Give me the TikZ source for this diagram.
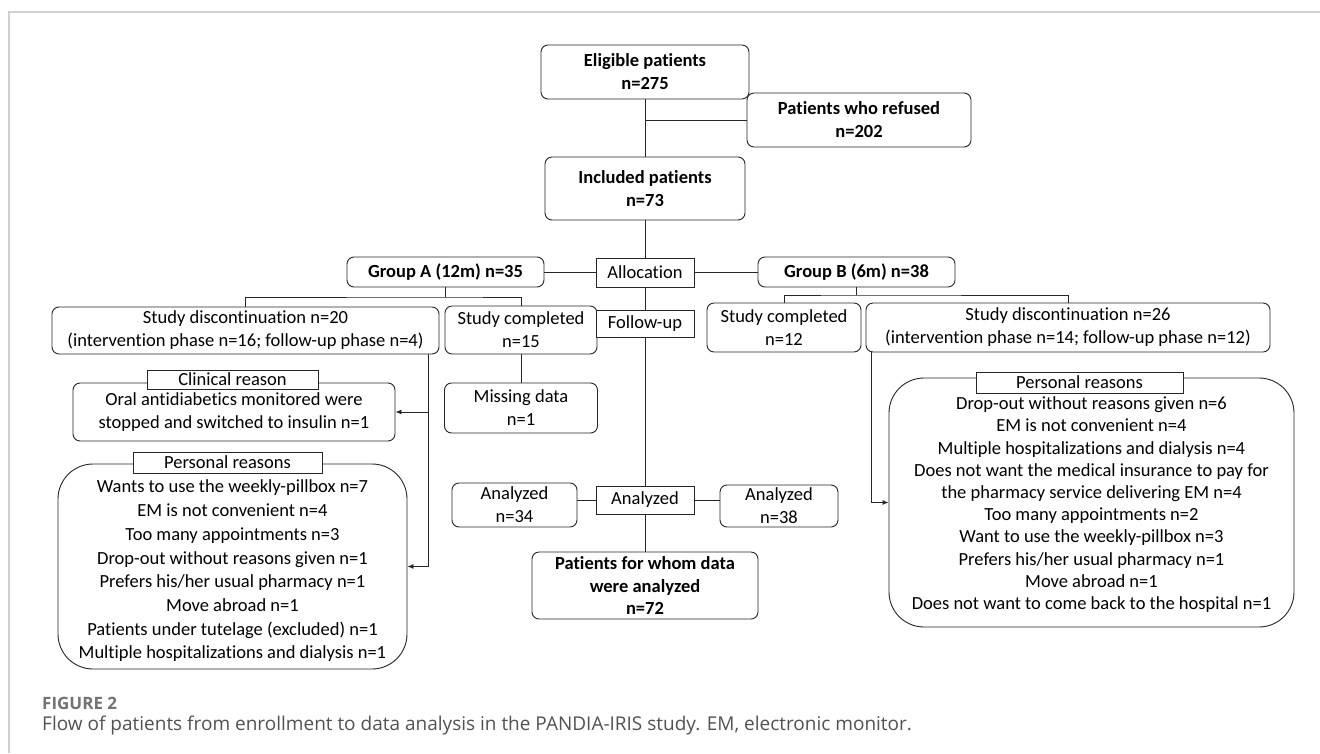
\documentclass[tikz,border=0pt]{standalone}
\usepackage{fontspec}
\setmainfont{Carlito}[Ligatures=NoCommon]
\newfontfamily\capfont{Open Sans}
\usetikzlibrary{arrows.meta,calc}
\newcommand\dfont{\fontsize{18.5}{23}\selectfont}
\tikzset{
  box/.style={draw=black!85, line width=0.9pt, rounded corners=7pt, align=center, inner sep=1pt, fill=white, font=\dfont},
  bbox/.style={box, font=\dfont\bfseries},
  lbl/.style={draw=black!85, line width=0.9pt, fill=white, align=center, inner sep=1pt, font=\dfont},
  bigbox/.style={draw=black!85, line width=0.9pt, rounded corners=35pt, fill=white},
  inner/.style={align=center, inner sep=0pt},
  conn/.style={draw=black!85, line width=0.9pt},
  arr/.style={conn, -{Latex[length=6pt,width=5pt]}},
}
\begin{document}
\begin{tikzpicture}[x=1pt,y=-1pt]
\useasboundingbox (0,0) rectangle (1320,753);
\fill[white] (0,0) rectangle (1320,753);
% frame
\draw[black!18, line width=1.2pt] (9,753) -- (9,12) -- (1320,12);

% top part
\node[bbox, minimum width=208pt, minimum height=54pt] (elig) at (645,72) {Eligible patients\\n=275};
\node[bbox, minimum width=224pt, minimum height=54pt] (ref) at (859,120) {Patients who refused\\n=202};
\node[bbox, minimum width=200pt, minimum height=63pt] (incl) at (645,188.5) {Included patients\\n=73};
\node[bbox, minimum width=197pt, minimum height=30pt] (grpA) at (445.5,272) {Group A (12m) n=35};
\node[lbl, minimum width=98pt, minimum height=29pt] (alloc) at (645,272.5) {Allocation};
\node[bbox, minimum width=197pt, minimum height=30pt] (grpB) at (856.5,272) {Group B (6m) n=38};

% second row
\node[box, minimum width=387pt, minimum height=47pt] (discA) at (245.5,330.5) {Study discontinuation n=20\\(intervention phase n=16; follow-up phase n=4)};
\node[box, minimum width=152pt, minimum height=48pt] (compA) at (521,330) {Study completed\\n=15};
\node[lbl, minimum width=98pt, minimum height=27pt] (fup) at (645,323.5) {Follow-up};
\node[box, minimum width=154pt, minimum height=49pt] (compB) at (784,327.5) {Study completed\\n=12};
\node[box, minimum width=404pt, minimum height=49pt] (discB) at (1068,327.5) {Study discontinuation n=26\\(intervention phase n=14; follow-up phase n=12)};

\node[box, minimum width=153pt, minimum height=50pt] (miss) at (521,408) {Missing data\\n=1};

% clinical reason
\node[box, minimum width=322pt, minimum height=58pt] (clin) at (234,412) {Oral antidiabetics monitored were\\stopped and switched to insulin n=1};
\node[lbl, minimum width=171pt, minimum height=19pt] (clinL) at (232.5,379.5) {Clinical reason};

% personal reasons A
\node[bigbox, minimum width=349pt, minimum height=205pt] (persA) at (232.5,566.5) {};
\node[inner, font=\fontsize{18.5}{23.7}\selectfont] (persAt) at (232.5,571) {Wants to use the weekly-pillbox n=7\\EM is not convenient n=4\\Too many appointments n=3\\Drop-out without reasons given n=1\\Prefers his/her usual pharmacy n=1\\Move abroad n=1\\Patients under tutelage (excluded) n=1\\Multiple hospitalizations and dialysis n=1};
\node[lbl, minimum width=189pt, minimum height=21pt] (persAL) at (227.5,462.5) {Personal reasons};

% personal reasons B
\node[bigbox, minimum width=405pt, minimum height=249pt] (persB) at (1091.5,502.5) {};
\node[inner, font=\fontsize{18.5}{22.2}\selectfont] (persBt) at (1091.5,504.6) {Drop-out without reasons given n=6\\EM is not convenient n=4\\Multiple hospitalizations and dialysis n=4\\Does not want the medical insurance to pay for\\the pharmacy service delivering EM n=4\\Too many appointments n=2\\Want to use the weekly-pillbox n=3\\Prefers his/her usual pharmacy n=1\\Move abroad n=1\\Does not want to come back to the hospital n=1};
\node[lbl, minimum width=207pt, minimum height=21pt] (persBL) at (1079.5,382.5) {Personal reasons};

% analyzed
\node[box, minimum width=125pt, minimum height=44pt] (anA) at (514.5,505) {Analyzed\\n=34};
\node[lbl, minimum width=98pt, minimum height=28pt] (anal) at (645,500) {Analyzed};
\node[box, minimum width=118pt, minimum height=42pt] (anB) at (779,506) {Analyzed\\n=38};
\node[bbox, minimum width=226pt, minimum height=67pt, font=\bfseries\fontsize{18.5}{22}\selectfont] (final) at (645,585.5) {Patients for whom data\\were analyzed\\n=72};

% connectors
\draw[conn] (elig) -- (incl);
\coordinate (jR) at (645,120);
\draw[conn] (jR) -- (ref.west);
\draw[conn] (incl) -- (alloc);
\draw[conn] (alloc) -- (fup);
\draw[conn] (fup) -- (anal);
\draw[conn] (anal) -- (final);
\draw[conn] (grpA.east) -- (grpA.east -| alloc.west);
\draw[conn] (alloc.east) -- (alloc.east -| grpB.west);
\draw[conn] (anal.west) -- (anal.west -| anA.east);
\draw[conn] (anal.east) -- (anal.east -| anB.west);

\coordinate (bA) at (445.5,297);
\draw[conn] (grpA.south) -- (bA);
\draw[conn] (discA.north) |- (bA) -| (compA.north);
\coordinate (bB) at (856.5,295);
\draw[conn] (grpB.south) -- (bB);
\draw[conn] (compB.north) |- (bB) -| (discB.north);
\draw[conn] (compA) -- (miss);

\coordinate (dA) at (428,354);
\draw[arr] (dA) |- (clin.east);
\draw[arr] (dA) |- (persA.east);
\coordinate (dB) at (871,352);
\draw[arr] (dB) |- (persB.west);

% caption
\node[anchor=west, inner sep=0pt, text=black!55] (figlbl) at (42,703) {\capfont\bfseries\fontsize{17}{19}\selectfont FIGURE 2};
\node[anchor=west, inner sep=0pt, text=black!68] (cap) at (42,726) {\capfont\fontsize{19}{22}\selectfont Flow of patients from enrollment to data analysis in the PANDIA-IRIS study. EM, electronic monitor.};
\end{tikzpicture}
\end{document}
